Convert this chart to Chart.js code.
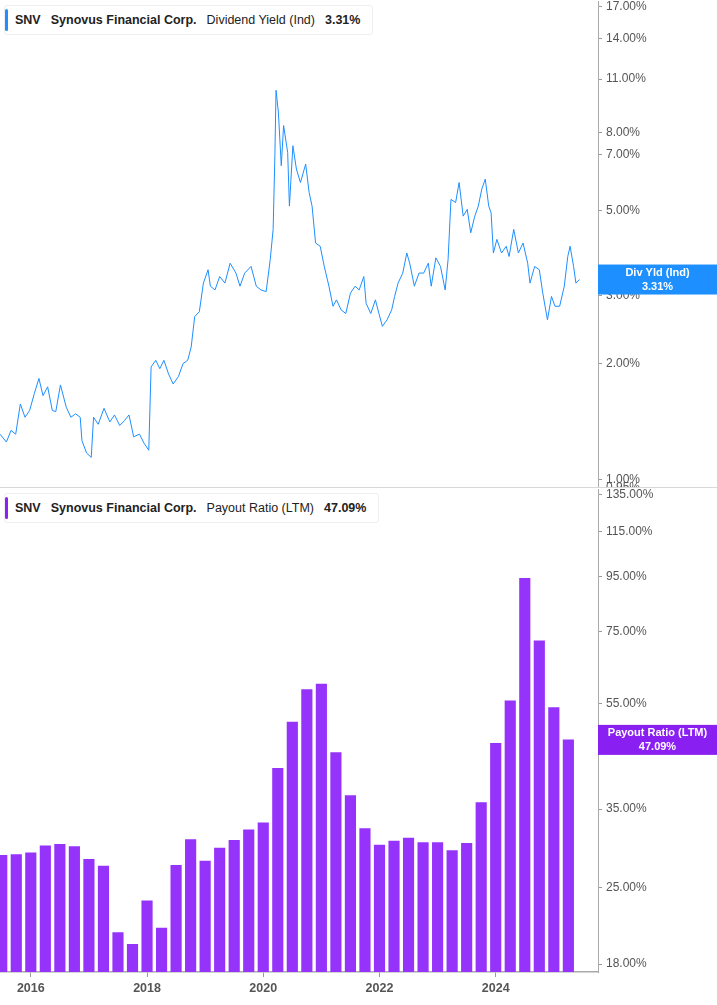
<!DOCTYPE html>
<html>
<head>
<meta charset="utf-8">
<script src="https://cdn.jsdelivr.net/npm/chart.js@4.4.1/dist/chart.umd.min.js"></script>
<style>
  body { margin: 0; background: #fff; font-family: "Liberation Sans", Arial, sans-serif; }
  .panel { position: relative; width: 717px; overflow: hidden; }
  #topPanel { height: 487px; border-bottom: 1px solid #d8d8d8; }
  #botPanel { height: 517px; }
  .wrap { position: absolute; left: 0; width: 717px; }
  #topWrap { top: -10px; height: 509px; }
  #botWrap { top: -10px; height: 527px; }
  .legend {
    position: absolute; left: 4px; background: #fff; border: 1px solid #eee;
    border-radius: 3px; padding: 7px 12px 7px 10px; font-size: 12.5px; color: #222;
  }
  .legend::before { content: ''; position: absolute; left: 0; top: 3px; bottom: 3px; width: 3px; border-radius: 2px; }
  #legTop { top: 5px; } #legTop::before { background: #1e8fff; }
  #legBot { top: 5px; } #legBot::before { background: #8f1ff5; }
  .legend b { font-weight: bold; }
  .legend span { margin-right: 10px; }
</style>
</head>
<body>
<div class="panel" id="topPanel">
  <div class="wrap" id="topWrap"><canvas id="yieldChart"></canvas></div>
  <div class="legend" id="legTop"><span><b>SNV</b></span><span><b>Synovus Financial Corp.</b></span><span>Dividend Yield (Ind)</span><b>3.31%</b></div>
</div>
<div class="panel" id="botPanel">
  <div class="wrap" id="botWrap"><canvas id="payoutChart"></canvas></div>
  <div class="legend" id="legBot"><span><b>SNV</b></span><span><b>Synovus Financial Corp.</b></span><span>Payout Ratio (LTM)</span><b>47.09%</b></div>
</div>
<script>
// Dividend yield (%) - dates en années décimales
const yieldDates = [2015.47,2015.58,2015.66,2015.74,2015.82,2015.90,2015.98,2016.06,2016.14,2016.21,2016.29,2016.37,2016.43,2016.51,2016.61,2016.69,2016.77,2016.85,2016.88,2016.96,
  2017.04,2017.08,2017.16,2017.26,2017.36,2017.44,2017.53,2017.61,2017.69,2017.77,2017.87,2017.95,2018.03,2018.07,2018.15,2018.22,2018.29,2018.37,2018.45,2018.54,
  2018.62,2018.70,2018.76,2018.82,2018.90,2018.97,2019.05,2019.09,2019.17,2019.25,2019.34,2019.43,2019.53,2019.60,2019.68,2019.79,2019.88,2019.96,2020.05,2020.12,
  2020.17,2020.20,2020.22,2020.26,2020.31,2020.35,2020.42,2020.45,2020.51,2020.57,2020.64,2020.73,2020.79,2020.84,2020.90,2020.98,2021.05,2021.13,2021.20,2021.26,
  2021.34,2021.42,2021.50,2021.58,2021.65,2021.73,2021.77,2021.85,2021.93,2021.99,2022.05,2022.13,2022.21,2022.26,2022.32,2022.40,2022.47,2022.52,2022.60,2022.68,
  2022.76,2022.84,2022.89,2022.97,2023.05,2023.13,2023.18,2023.23,2023.31,2023.37,2023.44,2023.51,2023.57,2023.64,2023.70,2023.76,2023.82,2023.88,2023.92,2023.96,
  2024.02,2024.10,2024.18,2024.23,2024.31,2024.39,2024.47,2024.55,2024.59,2024.67,2024.75,2024.81,2024.89,2024.96,2025.02,2025.10,2025.18,2025.24,2025.28,2025.34,
  2025.38,2025.44];
const yieldValues = [1.31,1.25,1.34,1.31,1.57,1.45,1.51,1.67,1.83,1.65,1.74,1.51,1.50,1.76,1.54,1.45,1.48,1.45,1.26,1.17,
  1.14,1.45,1.39,1.53,1.41,1.47,1.38,1.42,1.47,1.29,1.31,1.24,1.19,1.96,2.04,1.94,2.04,1.88,1.77,1.85,
  2.00,2.04,2.21,2.65,2.73,3.24,3.51,3.18,3.11,3.37,3.24,3.65,3.44,3.18,3.44,3.58,3.18,3.11,3.08,3.73,
  4.47,6.95,10.29,9.03,6.55,8.33,7.09,5.14,7.38,6.42,5.92,6.61,5.57,5.14,4.12,4.04,3.58,3.18,2.82,2.93,
  2.76,2.70,3.05,3.18,3.11,3.37,2.87,2.70,2.93,2.70,2.50,2.60,2.76,2.99,3.24,3.44,3.88,3.65,3.18,3.44,
  3.44,3.65,3.18,3.77,3.58,3.11,3.73,5.35,5.25,5.92,4.84,5.04,4.38,4.84,5.14,5.69,6.04,5.14,4.94,3.88,
  4.21,3.88,4.04,3.80,4.47,3.88,4.12,3.65,3.24,3.58,3.51,3.05,2.60,2.99,2.82,2.82,3.18,3.80,4.04,3.58,
  3.24,3.31];

// Payout ratio trimestriel (%)
const payoutDates = [2015.50,2015.75,2016.00,2016.25,2016.50,2016.75,2017.00,2017.25,2017.50,2017.75,
  2018.00,2018.25,2018.50,2018.75,2019.00,2019.25,2019.50,2019.75,2020.00,2020.25,
  2020.50,2020.75,2021.00,2021.25,2021.50,2021.75,2022.00,2022.25,2022.50,2022.75,
  2023.00,2023.25,2023.50,2023.75,2024.00,2024.25,2024.50,2024.75,2025.00,2025.25];
const payoutValues = [28.7,28.8,29.0,29.9,30.1,29.8,28.2,27.4,20.6,19.6,
  23.6,21.0,27.5,30.7,28.0,29.6,30.6,32.0,33.0,41.7,
  50.8,58.4,59.8,44.6,37.1,32.2,30.0,30.5,30.9,30.3,
  30.3,29.3,30.2,36.0,46.4,55.7,94.2,72.0,54.1,47.09];

const yieldTicks = [0.95,1,2,3,5,7,8,11,14,17];
const payoutTicks = [18,25,35,45,55,75,95,115,135];
const yearTicks = [2016,2018,2020,2022,2024];

const X_MIN = 2015.47, X_MAX = 2025.76;
const FONT = { family: '"Liberation Sans", Arial, sans-serif', size: 12 };

function pct(v) { return Number(v).toFixed(2) + '%'; }

// Étiquette de la dernière valeur à droite
function badgePlugin(color, line1, line2, value) {
  return {
    id: 'badge',
    afterDraw(chart) {
      const ctx = chart.ctx, area = chart.chartArea;
      const y = chart.scales.y.getPixelForValue(value);
      ctx.save();
      ctx.fillStyle = color;
      ctx.fillRect(area.right, y - 15, chart.width - area.right, 30);
      ctx.fillStyle = '#fff';
      ctx.font = 'bold 11px ' + FONT.family;
      ctx.textAlign = 'center';
      ctx.textBaseline = 'middle';
      const cx = (area.right + chart.width) / 2;
      ctx.fillText(line1, cx, y - 7);
      ctx.fillText(line2, cx, y + 7);
      ctx.restore();
    }
  };
}

function yAxis(min, max, ticks) {
  return {
    type: 'logarithmic', position: 'right', min: min, max: max,
    afterBuildTicks: s => { s.ticks = ticks.map(v => ({ value: v })); },
    afterFit: s => { s.width = 119; },
    ticks: { color: '#555', font: FONT, padding: 4, callback: v => pct(v), autoSkip: false },
    grid: { drawOnChartArea: false, tickLength: 4, color: '#999' },
    border: { color: '#aaa' }
  };
}

new Chart(document.getElementById('yieldChart'), {
  type: 'line',
  data: {
    datasets: [{
      data: yieldDates.map((d, i) => ({ x: d, y: yieldValues[i] })),
      borderColor: '#1e8fff', borderWidth: 1, pointRadius: 0, tension: 0
    }]
  },
  options: {
    responsive: true, maintainAspectRatio: false, animation: false,
    layout: { padding: 0 },
    plugins: { legend: { display: false }, tooltip: { enabled: false } },
    scales: {
      x: { type: 'linear', min: X_MIN, max: X_MAX, display: false },
      y: yAxis(0.95, 17.55, yieldTicks)
    }
  },
  plugins: [badgePlugin('#1e8fff', 'Div Yld (Ind)', '3.31%', 3.31)]
});

new Chart(document.getElementById('payoutChart'), {
  type: 'bar',
  data: {
    datasets: [{
      data: payoutDates.map((d, i) => ({ x: d, y: payoutValues[i] })),
      backgroundColor: '#9633fb', barThickness: 10.5
    }]
  },
  options: {
    responsive: true, maintainAspectRatio: false, animation: false,
    layout: { padding: 0 },
    plugins: { legend: { display: false }, tooltip: { enabled: false } },
    scales: {
      x: {
        type: 'linear', min: X_MIN, max: X_MAX, offset: false,
        afterBuildTicks: s => { s.ticks = yearTicks.map(v => ({ value: v })); },
        afterFit: s => { s.height = 33; },
        ticks: { color: '#555', font: { family: FONT.family, size: 12.5, weight: 'bold' }, padding: 4, callback: v => String(v) },
        grid: { drawOnChartArea: false, tickLength: 5, color: '#999', offset: false },
        border: { color: '#aaa', width: 1.5 }
      },
      y: yAxis(17.4, 138, payoutTicks)
    }
  },
  plugins: [badgePlugin('#8a1ff2', 'Payout Ratio (LTM)', '47.09%', 47.09)]
});
</script>
</body>
</html>
